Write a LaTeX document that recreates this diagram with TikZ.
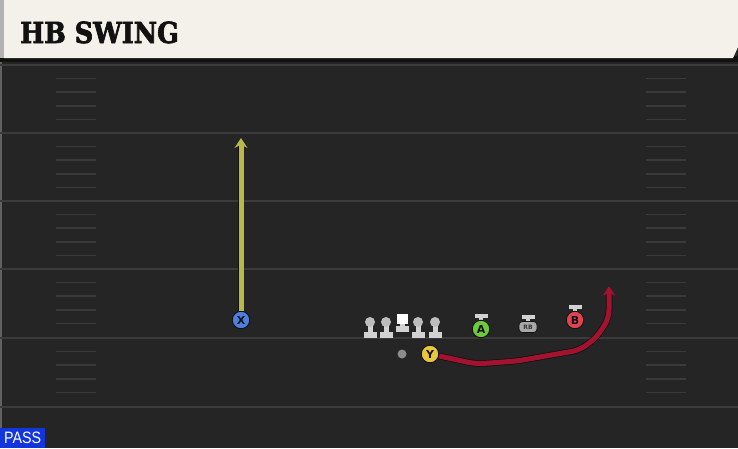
\documentclass[tikz,border=0pt]{standalone}
\usepackage{fontspec}
\newfontfamily\titlefont{DejaVu Serif}[BoldFeatures={FakeBold=2.5}]
\newfontfamily\labfont{DejaVu Sans}
\newfontfamily\passfont{Liberation Sans}
\usetikzlibrary{arrows.meta}
\definecolor{bgc}{HTML}{252525}
\definecolor{yardc}{HTML}{3B3B3B}
\definecolor{hashc}{HTML}{3A3A3A}
\definecolor{bannerc}{HTML}{F4F1EA}
\definecolor{shadowc}{HTML}{111111}
\definecolor{yroutec}{HTML}{B8B94A}
\definecolor{rroutec}{HTML}{A3122F}
\definecolor{xblue}{HTML}{4C7FE0}
\definecolor{agreen}{HTML}{6CCB3B}
\definecolor{bred}{HTML}{E24350}
\definecolor{yyellow}{HTML}{E9C73C}
\definecolor{iconc}{HTML}{D2D2D2}
\definecolor{headc}{HTML}{BDBDBD}
\definecolor{rbc}{HTML}{A8A8A8}
\definecolor{passblue}{HTML}{1236DD}
\tikzset{
  yard/.style={draw=yardc, line width=1.6pt},
  hashmark/.style={draw=hashc, line width=1.6pt},
  player/.style={circle, draw=shadowc, line width=0.9pt, minimum size=17.5pt, inner sep=0pt,
    font=\labfont\bfseries\fontsize{11}{11}\selectfont, text=shadowc},
  iconfill/.style={fill=iconc},
  routetip/.style={-{Stealth[width=13pt,length=10pt,inset=3.5pt]}},
  yroute/.style={draw=yroutec, line width=5pt, routetip,
    preaction={draw=shadowc, line width=6.5pt, routetip}},
  rroute/.style={draw=rroutec, line width=5pt, rounded corners=8pt, routetip,
    preaction={draw=shadowc, line width=6.5pt, routetip}},
}
\begin{document}
\begin{tikzpicture}[x=1pt,y=-1pt]
\useasboundingbox (0,0) rectangle (738,448);
\fill[bgc] (0,0) rectangle (738,448);
\fill[headc!40!bgc] (0,60) rectangle (1.5,448);
% yard lines
\foreach \y in {65,133,201,269,338,407} { \draw[yard] (0,\y) -- (738,\y); }
% hash marks
\foreach \y in {65,133,201,269,338} {
  \foreach \k in {1,2,3,4} {
    \draw[hashmark] (56,{\y+13.6*\k}) -- (96,{\y+13.6*\k});
    \draw[hashmark] (646,{\y+13.6*\k}) -- (686,{\y+13.6*\k});
  }
}
% banner
\fill[shadowc] (0,56) rectangle (738,62);
\fill[bannerc] (4,0) -- (738,0) -- (738,47) -- (733,58) -- (4,58) -- cycle;
\fill[black!30] (0,0) rectangle (4,58);
\node[anchor=base west, inner sep=0pt, text=shadowc] (title) at (20,43)
  {\scalebox{0.88}[1]{\titlefont\bfseries\fontsize{29}{29}\selectfont HB SWING}};
% linemen
\foreach \x in {370,386,418,435} {
  \fill[iconfill] (\x-6.5,331.5) rectangle (\x+6.5,338);
  \fill[iconfill] (\x-2.5,322) rectangle (\x+2.5,333);
  \fill[headc] (\x,322) circle (5);
}
\fill[iconfill] (395.5,325.5) rectangle (408.5,331.5);
\fill[iconfill] (399.5,322) rectangle (404.5,327);
\fill[white] (396.5,313.5) rectangle (407.5,323.5);
% QB
\node[circle, fill=black!45, minimum size=9pt, inner sep=0pt] (QB) at (402,354) {};
% T bars for A, RB, B
\fill[iconfill] (474.5,313.5) rectangle (487.5,317.5);
\fill[iconfill] (479,316) rectangle (483,322);
\fill[iconfill] (521.5,314.5) rectangle (534.5,318.5);
\fill[iconfill] (526,317) rectangle (530,322);
\fill[iconfill] (568.5,304.5) rectangle (581.5,308.5);
\fill[iconfill] (573,307) rectangle (577,313);
% players
\node[player, fill=xblue] (X) at (241,320) {X};
\node[player, fill=agreen] (A) at (481,329) {A};
\node[player, fill=bred] (B) at (575,320) {B};
\node[player, fill=yyellow] (Y) at (430,354) {Y};
\node[rectangle, rounded corners=3.5pt, fill=rbc, draw=shadowc, line width=0.7pt, minimum width=18pt, minimum height=11pt,
  inner sep=0pt, font=\labfont\bfseries\fontsize{6}{6}\selectfont, text=shadowc!85] (RB) at (528,327) {RB};
% routes
\coordinate (xtip) at (241,138);
\coordinate (btip) at (609,286);
\draw[yroute] (X.north) -- (xtip);
\draw[rroute] ([yshift=-2pt]Y.east) -- (476,364) -- (517,361) -- (580,350) -- (597,337) -- (609,318) -- (btip);
% pass label
\node[fill=passblue, text=white, anchor=south west, minimum width=45pt, minimum height=20pt, inner sep=0pt,
  font=\passfont\fontsize{15}{15}\selectfont] (pass) at (0,448) {\scalebox{0.95}[1.1]{PASS}};
\end{tikzpicture}
\end{document}
